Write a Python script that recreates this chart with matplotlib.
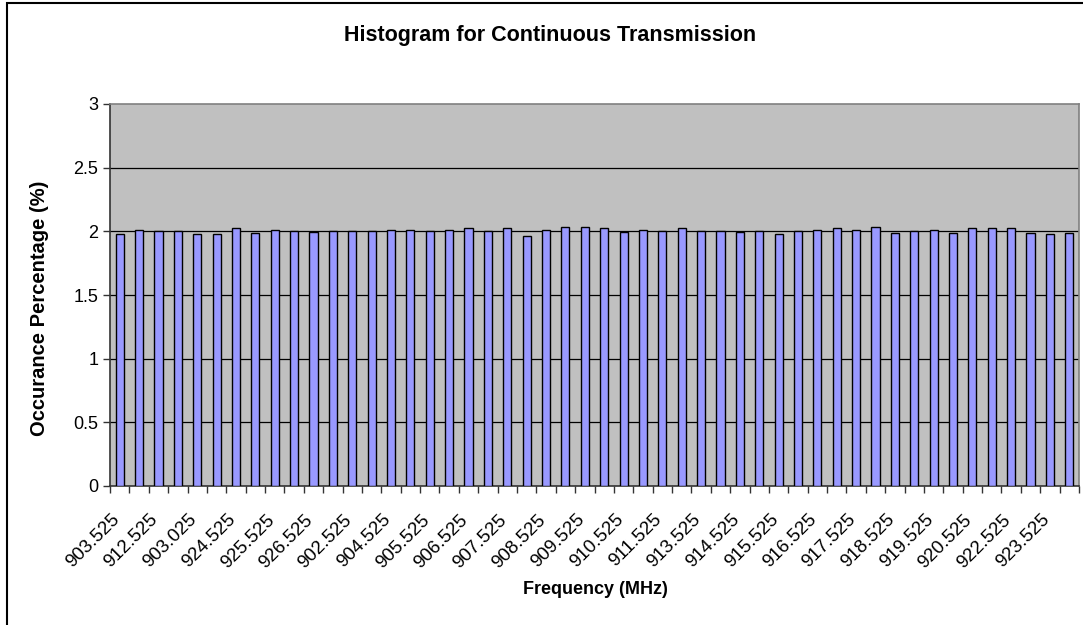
import matplotlib
matplotlib.use('Agg')
import matplotlib.pyplot as plt
import matplotlib.transforms as mtransforms
from matplotlib.patches import Rectangle
import numpy as np

# ---- Data ----
occurrence = [
    1.977, 2.013, 2.005, 2.005, 1.979, 1.979, 2.026, 1.990, 2.013, 2.005,
    1.992, 2.005, 2.005, 2.005, 2.013, 2.013, 2.005, 2.013, 2.026, 2.005,
    2.026, 1.966, 2.013, 2.037, 2.037, 2.026, 1.992, 2.013, 2.005, 2.026,
    2.005, 2.005, 1.992, 2.005, 1.979, 2.005, 2.013, 2.026, 2.013, 2.037,
    1.990, 2.005, 2.013, 1.990, 2.026, 2.026, 2.026, 1.990, 1.979, 1.990,
]
# only every other category is labelled in the original chart
shown_labels = [
    '903.525', '912.525', '903.025', '924.525', '925.525', '926.525',
    '902.525', '904.525', '905.525', '906.525', '907.525', '908.525',
    '909.525', '910.525', '911.525', '913.525', '914.525', '915.525',
    '916.525', '917.525', '918.525', '919.525', '920.525', '922.525',
    '923.525',
]
y_ticks = [0, 0.5, 1, 1.5, 2, 2.5, 3]

plt.rcParams['font.family'] = ['Liberation Sans', 'DejaVu Sans']

fig = plt.figure(figsize=(10.83, 6.25), dpi=100)
ax = fig.add_axes([110 / 1083, 1 - 486 / 625, 969 / 1083, 382 / 625])

x = np.arange(len(occurrence))
ax.set_facecolor('#C0C0C0')
ax.bar(x, occurrence, width=0.42, color='#9999FF', edgecolor='black',
       linewidth=1.0, zorder=3)

ax.set_xlim(-0.5, len(occurrence) - 0.5)
ax.set_ylim(0, 3)
ax.set_yticks(y_ticks)
ax.set_yticklabels([f'{v:g}' for v in y_ticks], fontsize=13)
for v in y_ticks[1:-1]:
    ax.axhline(v, color='black', linewidth=0.9, zorder=1)

# labels on every other bar, tick marks between categories
ax.set_xticks(x[::2])
ax.set_xticklabels(shown_labels, rotation=45, ha='right',
                   rotation_mode='anchor', fontsize=13.5)
ax.tick_params(axis='x', which='major', length=0, pad=16)
shift = mtransforms.ScaledTranslation(-9 / 100, -3 / 100, fig.dpi_scale_trans)
for lbl in ax.get_xticklabels():
    lbl.set_transform(lbl.get_transform() + shift)
ax.set_xticks(np.arange(-0.5, len(occurrence)), minor=True)
ax.tick_params(axis='x', which='minor', length=5, width=1, color='#333333')
ax.tick_params(axis='y', length=5, width=1, color='#333333')

for side in ['top', 'right']:
    ax.spines[side].set_color('#808080')
    ax.spines[side].set_linewidth(1.2)
for side in ['left', 'bottom']:
    ax.spines[side].set_color('#333333')
    ax.spines[side].set_linewidth(1.2)

fig.text(550 / 1083, 1 - 36 / 625, 'Histogram for Continuous Transmission',
         ha='center', va='center', fontsize=15.5, fontweight='bold')
fig.text(595 / 1083, 1 - 590 / 625, 'Frequency (MHz)',
         ha='center', va='center', fontsize=13, fontweight='bold')
fig.text(40 / 1083, 1 - 308 / 625, 'Occurance Percentage (%)',
         ha='center', va='center', rotation=90, fontsize=14.5, fontweight='bold')

# outer chart border (cut off at right and bottom in the original)
fig.patches.append(Rectangle((7 / 1083, -0.1), 1.2, 1.1 - 3 / 625,
                             transform=fig.transFigure, fill=False,
                             edgecolor='black', linewidth=1.5))

plt.savefig('out.png', dpi=100)
plt.close()
